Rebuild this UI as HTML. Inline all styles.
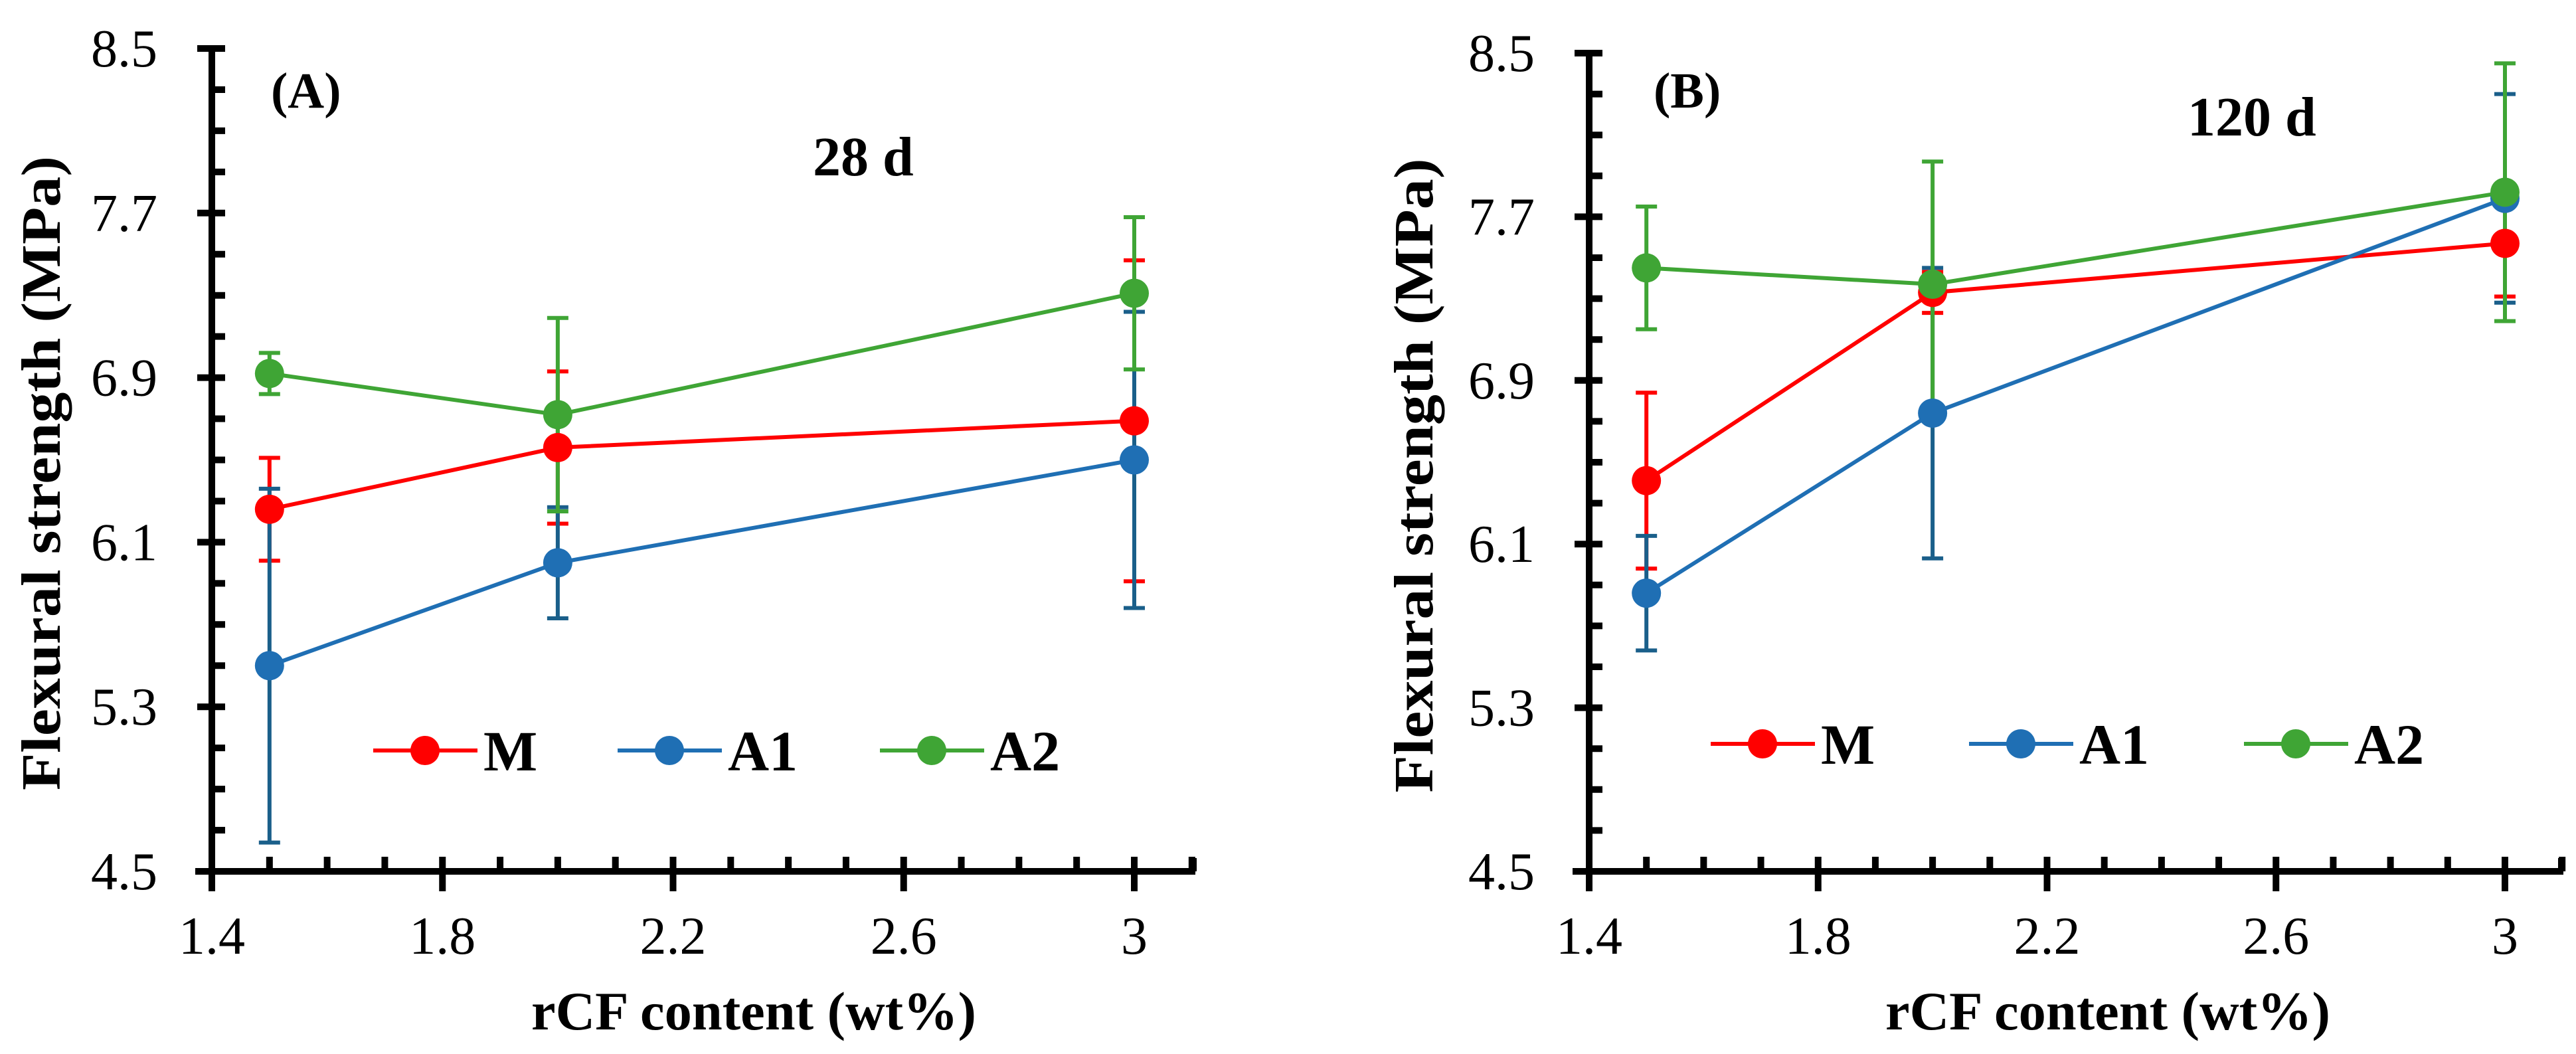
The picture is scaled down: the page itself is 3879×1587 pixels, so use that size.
<!DOCTYPE html>
<html><head><meta charset="utf-8"><style>
html,body{margin:0;padding:0;background:#fff}
svg{display:block}
text{font-family:"Liberation Serif",serif;fill:#000}
</style></head><body>
<svg id="chart" width="3879" height="1587" viewBox="0 0 3879 1587" xmlns="http://www.w3.org/2000/svg"></svg>
<script>
const xCategories = [1.5, 2.0, 3.0];
const seriesNames = ["M", "A1", "A2"];
const seriesColors = ["#ff0000", "#1f6fb4", "#3fa535"];
const errColors = ["#ff0000", "#1a5f8a", "#3fa535"];
// Panel A (28 d)
const aM = [6.26, 6.56, 6.69];
const aMerr = [0.25, 0.37, 0.78];
const aA1 = [5.50, 6.00, 6.50];
const aA1err = [0.86, 0.27, 0.72];
const aA2 = [6.92, 6.72, 7.31];
const aA2err = [0.10, 0.47, 0.37];
// Panel B (120 d)
const bM = [6.41, 7.33, 7.57];
const bMerr = [0.43, 0.10, 0.26];
const bA1 = [5.86, 6.74, 7.79];
const bA1err = [0.28, 0.71, 0.51];
const bA2 = [7.45, 7.37, 7.82];
const bA2err = [0.30, 0.60, 0.63];
const yTicks = [4.5, 5.3, 6.1, 6.9, 7.7, 8.5];
const xTicks = [1.4, 1.8, 2.2, 2.6, 3];

const svg = document.getElementById('chart');
const NS = 'http://www.w3.org/2000/svg';
function mk(tag, attrs, parent){
  const e = document.createElementNS(NS, tag);
  for (const k in attrs) e.setAttribute(k, attrs[k]);
  (parent||svg).appendChild(e);
  return e;
}

function panel(p){
  const g = mk('g', {});
  
  
  const sx = v => p.x0 + (v - 1.4) / 1.6 * (p.x1 - p.x0);
  const sy = v => p.y1 - (v - 4.5) / 4.0 * (p.y1 - p.y0);
  const ax = mk('g', {stroke:'#000', 'stroke-width':10, fill:'none'}, g);
  
  
  mk('line', {x1:p.x0, y1:p.y0-5, x2:p.x0, y2:p.y1+5}, ax);
  mk('line', {x1:p.x0-25, y1:p.y1, x2:p.xEnd, y2:p.y1}, ax);
  mk('line', {x1:p.xEnd-3, y1:p.y1, x2:p.xEnd-3, y2:p.y1-20}, ax);
  for (let v = 4.5; v <= 8.51; v += 0.2){
    const y = sy(v);
    const major = Math.abs(((v - 4.5) / 0.8) - Math.round((v - 4.5) / 0.8)) < 0.01;
    if (major) mk('line', {x1:p.x0-22, y1:y, x2:p.x0+20, y2:y}, ax);
    else mk('line', {x1:p.x0, y1:y, x2:p.x0+20, y2:y}, ax);
  }
  for (let v = 1.4; v <= 3.15; v += 0.1){
    const x = sx(v);
    const major = Math.abs(((v - 1.4) / 0.4) - Math.round((v - 1.4) / 0.4)) < 0.01 || Math.abs(v-3)<0.01;
    if (major) mk('line', {x1:x, y1:p.y1-22, x2:x, y2:p.y1+30}, ax);
    else mk('line', {x1:x, y1:p.y1-22, x2:x, y2:p.y1}, ax);
  }
  yTicks.forEach(v => {
    const t = mk('text', {x:p.x0-82, y:sy(v)+27, 'text-anchor':'end', 'font-size':80}, g);
    
    
    t.textContent = v.toFixed(1);
  });
  xTicks.forEach(v => {
    const t = mk('text', {x:sx(v), y:p.y1+124, 'text-anchor':'middle', 'font-size':80}, g);
    
    
    t.textContent = String(v);
  });
  const yt = mk('text', {x:0, y:0, 'text-anchor':'middle', 'font-size':84, 'font-weight':'bold', transform:`translate(${p.yTitleX},${(p.y0+p.y1)/2+20}) rotate(-90)`, textLength:955, lengthAdjust:'spacingAndGlyphs'}, g);
  
  
  yt.textContent = 'Flexural strength (MPa)';
  const xt = mk('text', {x:p.xTitleX, y:1550, 'text-anchor':'middle', 'font-size':82, 'font-weight':'bold', textLength:670, lengthAdjust:'spacingAndGlyphs'}, g);
  
  
  xt.textContent = 'rCF content (wt%)';
  const lb = mk('text', {x:p.labelX, y:p.labelY, 'font-size':76, 'font-weight':'bold'}, g);
  
  
  lb.textContent = p.label;
  const ag = mk('text', {x:p.ageX, y:p.ageY, 'font-size':84, 'font-weight':'bold'}, g);
  
  
  ag.textContent = p.age;
  p.series.forEach((s, i) => {
    const sg = mk('g', {}, g);
    
    
    const pts = xCategories.map((c, j) => sx(c) + ',' + sy(s.v[j])).join(' ');
    mk('polyline', {points:pts, fill:'none', stroke:seriesColors[i], 'stroke-width':6}, sg);
    xCategories.forEach((c, j) => {
      const x = sx(c), yt1 = sy(s.v[j] + s.e[j]), yb = sy(s.v[j] - s.e[j]);
      const eb = mk('path', {d:`M${x},${yt1}V${yb}M${x-16},${yt1}H${x+16}M${x-16},${yb}H${x+16}`, stroke:errColors[i], 'stroke-width':6, fill:'none'}, sg);
      
      
    });
  });
  p.series.forEach((s, i) => {
    xCategories.forEach((c, j) => {
      const m = mk('circle', {cx:sx(c), cy:sy(s.v[j]), r:22, fill:seriesColors[i]}, g);
      
      
    });
  });
  const lg = mk('g', {}, g);
  
  
  p.legend.forEach((lx, i) => {
    const e = mk('g', {}, lg);
    
    
    mk('line', {x1:lx, y1:p.legY, x2:lx+157, y2:p.legY, stroke:seriesColors[i], 'stroke-width':6}, e);
    mk('circle', {cx:lx+78, cy:p.legY, r:22, fill:seriesColors[i]}, e);
    const t = mk('text', {x:lx+166, y:p.legY+30, 'font-size':86, 'font-weight':'bold'}, e);
    t.textContent = seriesNames[i];
  });
}

panel({name:'panel-a', x0:319, x1:1708, xEnd:1800, y0:73, y1:1312, yTitleX:90, xTitleX:1135,
  label:'(A)', labelX:408, labelY:162, age:'28 d', ageX:1224, ageY:264,
  legend:[562, 930, 1325], legY:1130,
  series:[{v:aM,e:aMerr},{v:aA1,e:aA1err},{v:aA2,e:aA2err}]});
panel({name:'panel-b', x0:2393, x1:3772, xEnd:3860, y0:80, y1:1312, yTitleX:2157, xTitleX:3174,
  label:'(B)', labelX:2490, labelY:162, age:'120 d', ageX:3294, ageY:204,
  legend:[2576, 2965, 3379], legY:1120,
  series:[{v:bM,e:bMerr},{v:bA1,e:bA1err},{v:bA2,e:bA2err}]});
</script>
</body></html>
